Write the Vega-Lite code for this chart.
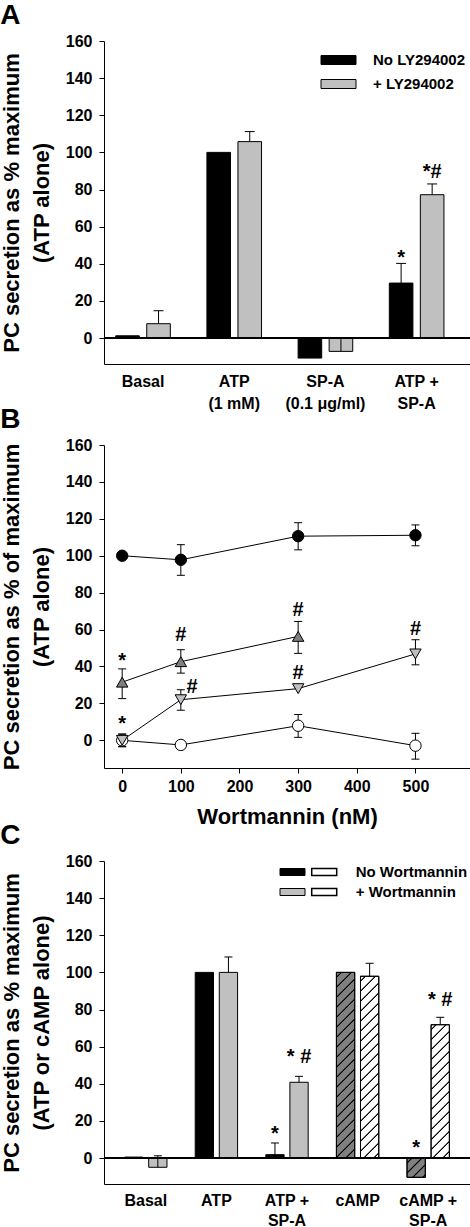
{
  "$schema": "https://vega.github.io/schema/vega-lite/v6.json",
  "background": "white",
  "padding": {"left": 0, "top": 2, "right": 0, "bottom": 0},
  "spacing": -5,
  "resolve": {"scale": {"fill": "independent", "shape": "independent", "stroke": "independent", "xOffset": "independent"}, "legend": {"fill": "independent", "shape": "independent", "stroke": "independent"}},
  "config": {
    "font": "Liberation Sans",
    "view": {"stroke": null},
    "axis": {"labelFont": "Liberation Sans", "labelFontWeight": "bold", "labelFontSize": 16, "labelColor": "black", "titleFont": "Liberation Sans", "titleFontWeight": "bold", "titleFontSize": 22, "titleColor": "black", "domainColor": "black", "tickColor": "black", "grid": false, "tickSize": 5},
    "legend": {"labelFont": "Liberation Sans", "labelFontWeight": "bold", "labelFontSize": 15, "labelColor": "black", "labelLimit": 300, "padding": 0},
    "title": {"font": "Liberation Sans", "fontWeight": "bold", "fontSize": 28, "color": "black", "anchor": "start", "frame": "bounds"}
  },
  "params": [
    {"name": "legendDark", "value": {"gradient": "linear", "x1": 0, "y1": 0, "x2": 1.187, "y2": 0.3323, "stops": [
      {"offset": 0.174, "color": "#808080"}, {"offset": 0.199, "color": "black"}, {"offset": 0.239, "color": "black"}, {"offset": 0.264, "color": "#808080"},
      {"offset": 0.424, "color": "#808080"}, {"offset": 0.449, "color": "black"}, {"offset": 0.489, "color": "black"}, {"offset": 0.514, "color": "#808080"},
      {"offset": 0.674, "color": "#808080"}, {"offset": 0.699, "color": "black"}, {"offset": 0.739, "color": "black"}, {"offset": 0.764, "color": "#808080"}]}},
    {"name": "legendWhite", "value": {"gradient": "linear", "x1": 0, "y1": 0, "x2": 1.187, "y2": 0.3323, "stops": [
      {"offset": 0.174, "color": "white"}, {"offset": 0.199, "color": "black"}, {"offset": 0.239, "color": "black"}, {"offset": 0.264, "color": "white"},
      {"offset": 0.424, "color": "white"}, {"offset": 0.449, "color": "black"}, {"offset": 0.489, "color": "black"}, {"offset": 0.514, "color": "white"},
      {"offset": 0.674, "color": "white"}, {"offset": 0.699, "color": "black"}, {"offset": 0.739, "color": "black"}, {"offset": 0.764, "color": "white"}]}},
    {"name": "hatch", "value": [
      {"offset": 0.0178, "color": "rgba(0,0,0,0)"}, {"offset": 0.0218, "color": "black"}, {"offset": 0.0258, "color": "black"}, {"offset": 0.0298, "color": "rgba(0,0,0,0)"},
      {"offset": 0.0654, "color": "rgba(0,0,0,0)"}, {"offset": 0.0694, "color": "black"}, {"offset": 0.0734, "color": "black"}, {"offset": 0.0774, "color": "rgba(0,0,0,0)"},
      {"offset": 0.1131, "color": "rgba(0,0,0,0)"}, {"offset": 0.1171, "color": "black"}, {"offset": 0.1211, "color": "black"}, {"offset": 0.1251, "color": "rgba(0,0,0,0)"},
      {"offset": 0.1607, "color": "rgba(0,0,0,0)"}, {"offset": 0.1647, "color": "black"}, {"offset": 0.1687, "color": "black"}, {"offset": 0.1727, "color": "rgba(0,0,0,0)"},
      {"offset": 0.2083, "color": "rgba(0,0,0,0)"}, {"offset": 0.2123, "color": "black"}, {"offset": 0.2163, "color": "black"}, {"offset": 0.2203, "color": "rgba(0,0,0,0)"},
      {"offset": 0.2559, "color": "rgba(0,0,0,0)"}, {"offset": 0.2599, "color": "black"}, {"offset": 0.2639, "color": "black"}, {"offset": 0.2679, "color": "rgba(0,0,0,0)"},
      {"offset": 0.3035, "color": "rgba(0,0,0,0)"}, {"offset": 0.3075, "color": "black"}, {"offset": 0.3115, "color": "black"}, {"offset": 0.3155, "color": "rgba(0,0,0,0)"},
      {"offset": 0.3511, "color": "rgba(0,0,0,0)"}, {"offset": 0.3551, "color": "black"}, {"offset": 0.3591, "color": "black"}, {"offset": 0.3631, "color": "rgba(0,0,0,0)"},
      {"offset": 0.3988, "color": "rgba(0,0,0,0)"}, {"offset": 0.4028, "color": "black"}, {"offset": 0.4068, "color": "black"}, {"offset": 0.4108, "color": "rgba(0,0,0,0)"},
      {"offset": 0.4464, "color": "rgba(0,0,0,0)"}, {"offset": 0.4504, "color": "black"}, {"offset": 0.4544, "color": "black"}, {"offset": 0.4584, "color": "rgba(0,0,0,0)"},
      {"offset": 0.494, "color": "rgba(0,0,0,0)"}, {"offset": 0.498, "color": "black"}, {"offset": 0.502, "color": "black"}, {"offset": 0.506, "color": "rgba(0,0,0,0)"},
      {"offset": 0.5416, "color": "rgba(0,0,0,0)"}, {"offset": 0.5456, "color": "black"}, {"offset": 0.5496, "color": "black"}, {"offset": 0.5536, "color": "rgba(0,0,0,0)"},
      {"offset": 0.5892, "color": "rgba(0,0,0,0)"}, {"offset": 0.5932, "color": "black"}, {"offset": 0.5972, "color": "black"}, {"offset": 0.6012, "color": "rgba(0,0,0,0)"},
      {"offset": 0.6369, "color": "rgba(0,0,0,0)"}, {"offset": 0.6409, "color": "black"}, {"offset": 0.6449, "color": "black"}, {"offset": 0.6489, "color": "rgba(0,0,0,0)"},
      {"offset": 0.6845, "color": "rgba(0,0,0,0)"}, {"offset": 0.6885, "color": "black"}, {"offset": 0.6925, "color": "black"}, {"offset": 0.6965, "color": "rgba(0,0,0,0)"},
      {"offset": 0.7321, "color": "rgba(0,0,0,0)"}, {"offset": 0.7361, "color": "black"}, {"offset": 0.7401, "color": "black"}, {"offset": 0.7441, "color": "rgba(0,0,0,0)"},
      {"offset": 0.7797, "color": "rgba(0,0,0,0)"}, {"offset": 0.7837, "color": "black"}, {"offset": 0.7877, "color": "black"}, {"offset": 0.7917, "color": "rgba(0,0,0,0)"},
      {"offset": 0.8273, "color": "rgba(0,0,0,0)"}, {"offset": 0.8313, "color": "black"}, {"offset": 0.8353, "color": "black"}, {"offset": 0.8393, "color": "rgba(0,0,0,0)"},
      {"offset": 0.875, "color": "rgba(0,0,0,0)"}, {"offset": 0.879, "color": "black"}, {"offset": 0.883, "color": "black"}, {"offset": 0.887, "color": "rgba(0,0,0,0)"},
      {"offset": 0.9226, "color": "rgba(0,0,0,0)"}, {"offset": 0.9266, "color": "black"}, {"offset": 0.9306, "color": "black"}, {"offset": 0.9346, "color": "rgba(0,0,0,0)"},
      {"offset": 0.9702, "color": "rgba(0,0,0,0)"}, {"offset": 0.9742, "color": "black"}, {"offset": 0.9782, "color": "black"}, {"offset": 0.9822, "color": "rgba(0,0,0,0)"}
    ]}
  ],
  "datasets": {
    "a_bars": [
      {"treatment": "Basal", "ly": "No LY294002", "value": 1.2, "hi": null},
      {"treatment": "Basal", "ly": "+ LY294002", "value": 7.7, "hi": 14.7},
      {"treatment": "ATP (1 mM)", "ly": "No LY294002", "value": 100, "hi": null},
      {"treatment": "ATP (1 mM)", "ly": "+ LY294002", "value": 105.8, "hi": 111.2},
      {"treatment": "SP-A (0.1 μg/ml)", "ly": "No LY294002", "value": -10.8, "hi": null},
      {"treatment": "SP-A (0.1 μg/ml)", "ly": "+ LY294002", "value": -7.2, "hi": 0},
      {"treatment": "ATP + SP-A", "ly": "No LY294002", "value": 29.6, "hi": 40.2},
      {"treatment": "ATP + SP-A", "ly": "+ LY294002", "value": 77.2, "hi": 83}
    ],
    "a_notes": [
      {"treatment": "ATP + SP-A", "ly": "No LY294002", "y": 43, "text": "*"},
      {"treatment": "ATP + SP-A", "ly": "+ LY294002", "y": 89.3, "text": "*#"}
    ],
    "b_points": [
      {"series": "Basal", "wort": 0, "value": 0, "lo": -3.5, "hi": 3.5},
      {"series": "Basal", "wort": 100, "value": -2.5, "lo": null, "hi": null},
      {"series": "Basal", "wort": 300, "value": 7.9, "lo": 1.6, "hi": 14},
      {"series": "Basal", "wort": 500, "value": -2.9, "lo": -10.2, "hi": 3.8},
      {"series": "ATP", "wort": 0, "value": 100, "lo": null, "hi": null},
      {"series": "ATP", "wort": 100, "value": 97.8, "lo": 89.4, "hi": 106},
      {"series": "ATP", "wort": 300, "value": 110.6, "lo": 103.2, "hi": 117.9},
      {"series": "ATP", "wort": 500, "value": 111.1, "lo": 105.4, "hi": 116.7},
      {"series": "ATP + SP-A, 0.1 μg/ml", "wort": 0, "value": 31.5, "lo": 22.6, "hi": 38.7},
      {"series": "ATP + SP-A, 0.1 μg/ml", "wort": 100, "value": 42.6, "lo": 36.4, "hi": 49.1},
      {"series": "ATP + SP-A, 0.1 μg/ml", "wort": 300, "value": 56.3, "lo": 47.1, "hi": 64.4},
      {"series": "ATP + SP-A, 0.2 μg/ml", "wort": 0, "value": 0, "lo": -3.4, "hi": 3},
      {"series": "ATP + SP-A, 0.2 μg/ml", "wort": 100, "value": 22, "lo": 16.3, "hi": 27.4},
      {"series": "ATP + SP-A, 0.2 μg/ml", "wort": 300, "value": 28, "lo": null, "hi": null},
      {"series": "ATP + SP-A, 0.2 μg/ml", "wort": 500, "value": 46.8, "lo": 40.9, "hi": 54.5}
    ],
    "b_notes": [
      {"wort": 0, "y": 42.8, "text": "*"},
      {"wort": 0, "y": 8.9, "text": "*"},
      {"wort": 100, "y": 57, "text": "#"},
      {"wort": 119, "y": 29, "text": "#"},
      {"wort": 300, "y": 70.5, "text": "#"},
      {"wort": 300, "y": 36.5, "text": "#"},
      {"wort": 500, "y": 60.3, "text": "#"}
    ],
    "c_bars": [
      {"treatment": "Basal", "wort": "No Wortmannin", "agonist": "none", "value": 0.5, "hi": null},
      {"treatment": "Basal", "wort": "+ Wortmannin", "agonist": "none", "value": -5, "hi": 1.2},
      {"treatment": "ATP", "wort": "No Wortmannin", "agonist": "ATP", "value": 100, "hi": null},
      {"treatment": "ATP", "wort": "+ Wortmannin", "agonist": "ATP", "value": 100, "hi": 108.3},
      {"treatment": "ATP + SP-A", "wort": "No Wortmannin", "agonist": "ATP", "value": 1.8, "hi": 8.1},
      {"treatment": "ATP + SP-A", "wort": "+ Wortmannin", "agonist": "ATP", "value": 40.8, "hi": 44},
      {"treatment": "cAMP", "wort": "No Wortmannin", "agonist": "cAMP", "value": 100, "hi": null},
      {"treatment": "cAMP", "wort": "+ Wortmannin", "agonist": "cAMP", "value": 97.9, "hi": 104.9},
      {"treatment": "cAMP + SP-A", "wort": "No Wortmannin", "agonist": "cAMP", "value": -10.4, "hi": null},
      {"treatment": "cAMP + SP-A", "wort": "+ Wortmannin", "agonist": "cAMP", "value": 71.8, "hi": 75.8}
    ],
    "c_notes": [
      {"treatment": "ATP + SP-A", "wort": "No Wortmannin", "y": 12.7, "text": "*"},
      {"treatment": "ATP + SP-A", "wort": "+ Wortmannin", "y": 54.3, "text": "* #"},
      {"treatment": "cAMP + SP-A", "wort": "No Wortmannin", "y": 5.2, "text": "*"},
      {"treatment": "cAMP + SP-A", "wort": "+ Wortmannin", "y": 85.2, "text": "* #"}
    ]
  },
  "vconcat": [
    {
      "title": {"text": "A", "offset": 3},
      "width": 366,
      "height": 323,
      "data": {"name": "a_bars"},
      "layer": [
        {
          "mark": {"type": "bar", "stroke": "black", "strokeWidth": 1, "opacity": 1},
          "encoding": {
            "x": {"field": "treatment", "type": "nominal", "sort": null, "scale": {"domain": ["Basal", "ATP (1 mM)", "SP-A (0.1 μg/ml)", "ATP + SP-A"], "paddingInner": 0.401, "paddingOuter": 0.207, "align": 0.31}, "axis": {"title": null, "labelAngle": 0, "ticks": false, "labelPadding": 9, "labelBaseline": "top", "labelLineHeight": 22, "labelExpr": "split(replace(replace(datum.label, ' + ', ' +|'), ' (', '|('), '|')"}},
            "xOffset": {"field": "ly", "type": "nominal", "sort": null, "scale": {"domain": ["No LY294002", "+ LY294002"], "paddingInner": 0.24, "paddingOuter": 0}},
            "y": {"field": "value", "type": "quantitative", "scale": {"domain": [-14, 160], "nice": false, "zero": false}, "axis": {"title": ["PC secretion as % maximum", "(ATP alone)"], "values": [0, 20, 40, 60, 80, 100, 120, 140, 160], "labelPadding": 7, "titlePadding": 12, "titleLineHeight": 30}},
            "fill": {"field": "ly", "type": "nominal", "scale": {"domain": ["No LY294002", "+ LY294002"], "range": ["black", "#c0c0c0"]}, "legend": {"orient": "none", "legendX": 217, "legendY": 11.5, "title": null, "symbolType": "M-4.375,-1.125H4.375V1.125H-4.375Z", "symbolSize": 64, "symbolStrokeColor": "black", "symbolStrokeWidth": 1, "symbolOffset": 10, "labelOffset": 27, "rowPadding": 8}}
          }
        },
        {
          "mark": {"type": "rule", "color": "black", "strokeWidth": 1},
          "encoding": {"y": {"datum": 0, "type": "quantitative"}}
        },
        {
          "transform": [{"filter": "datum.hi != null"}],
          "mark": {"type": "rule", "color": "black", "strokeWidth": 1},
          "encoding": {
            "x": {"field": "treatment", "type": "nominal", "sort": null, "scale": {"domain": ["Basal", "ATP (1 mM)", "SP-A (0.1 μg/ml)", "ATP + SP-A"]}},
            "xOffset": {"field": "ly", "type": "nominal", "sort": null, "scale": {"domain": ["No LY294002", "+ LY294002"]}},
            "y": {"field": "value", "type": "quantitative"},
            "y2": {"field": "hi"}
          }
        },
        {
          "transform": [{"filter": "datum.hi != null"}],
          "mark": {"type": "tick", "color": "black", "thickness": 1, "size": 10, "orient": "horizontal", "opacity": 1},
          "encoding": {
            "x": {"field": "treatment", "type": "nominal", "sort": null, "scale": {"domain": ["Basal", "ATP (1 mM)", "SP-A (0.1 μg/ml)", "ATP + SP-A"]}},
            "xOffset": {"field": "ly", "type": "nominal", "sort": null, "scale": {"domain": ["No LY294002", "+ LY294002"]}},
            "y": {"field": "hi", "type": "quantitative"}
          }
        },
        {
          "data": {"name": "a_notes"},
          "mark": {"type": "text", "fontSize": 20, "fontWeight": "bold", "baseline": "middle", "align": "center", "color": "black"},
          "encoding": {
            "x": {"field": "treatment", "type": "nominal", "sort": null, "scale": {"domain": ["Basal", "ATP (1 mM)", "SP-A (0.1 μg/ml)", "ATP + SP-A"]}},
            "xOffset": {"field": "ly", "type": "nominal", "sort": null, "scale": {"domain": ["No LY294002", "+ LY294002"]}},
            "y": {"field": "y", "type": "quantitative"},
            "text": {"field": "text"}
          }
        }
      ]
    },
    {
      "title": {"text": "B", "offset": 3},
      "width": 366,
      "height": 323,
      "data": {"name": "b_points"},
      "layer": [
        {
          "mark": {"type": "line", "color": "black", "strokeWidth": 1},
          "encoding": {
            "x": {"field": "wort", "type": "quantitative", "scale": {"domain": [-31, 593], "nice": false, "zero": false}, "axis": {"title": "Wortmannin (nM)", "titleFontSize": 22, "values": [0, 100, 200, 300, 400, 500], "labelPadding": 5, "titlePadding": 12}},
            "y": {"field": "value", "type": "quantitative", "scale": {"domain": [-15, 160], "nice": false, "zero": false}, "axis": {"title": ["PC secretion as % of maximum", "(ATP alone)"], "values": [0, 20, 40, 60, 80, 100, 120, 140, 160], "labelPadding": 7, "titlePadding": 12, "titleLineHeight": 30}},
            "detail": {"field": "series"}
          }
        },
        {
          "transform": [{"filter": "datum.hi != null"}],
          "mark": {"type": "rule", "color": "black", "strokeWidth": 1},
          "encoding": {
            "x": {"field": "wort", "type": "quantitative"},
            "y": {"field": "lo", "type": "quantitative"},
            "y2": {"field": "hi"}
          }
        },
        {
          "transform": [{"filter": "datum.hi != null"}],
          "mark": {"type": "tick", "color": "black", "thickness": 1, "size": 8, "orient": "horizontal", "opacity": 1},
          "encoding": {
            "x": {"field": "wort", "type": "quantitative"},
            "y": {"field": "hi", "type": "quantitative"}
          }
        },
        {
          "transform": [{"filter": "datum.lo != null"}],
          "mark": {"type": "tick", "color": "black", "thickness": 1, "size": 8, "orient": "horizontal", "opacity": 1},
          "encoding": {
            "x": {"field": "wort", "type": "quantitative"},
            "y": {"field": "lo", "type": "quantitative"}
          }
        },
        {
          "mark": {"type": "point", "filled": true, "opacity": 1, "stroke": "black", "strokeWidth": 1, "size": 130},
          "encoding": {
            "x": {"field": "wort", "type": "quantitative"},
            "y": {"field": "value", "type": "quantitative"},
            "fill": {"field": "series", "type": "nominal", "scale": {"domain": ["Basal", "ATP", "ATP + SP-A, 0.1 μg/ml", "ATP + SP-A, 0.2 μg/ml"], "range": ["white", "black", "#7f7f7f", "#bfbfbf"]}, "legend": {"orient": "none", "legendX": 31, "legendY": 9.5, "title": null, "columns": 2, "columnPadding": 7, "rowPadding": 2, "symbolSize": 64, "symbolOffset": 6.5, "labelOffset": 21, "values": ["Basal", "ATP + SP-A, 0.1 μg/ml", "ATP", "ATP + SP-A, 0.2 μg/ml"], "encode": {"symbols": {"update": {"shape": {"condition": [{"test": "datum.value === 'ATP + SP-A, 0.1 μg/ml'", "value": "M-3.5,0H-0.76M0.76,0H3.5M0,-1.3L1.35,1L-1.35,1Z"}, {"test": "datum.value === 'ATP + SP-A, 0.2 μg/ml'", "value": "M-3.5,0H-0.76M0.76,0H3.5M0,1.3L1.35,-1L-1.35,-1Z"}], "value": "M-3.5,0H-1.2M1.2,0H3.5M1.2,0A1.2,1.2,0,1,1,-1.2,0A1.2,1.2,0,1,1,1.2,0Z"}, "stroke": {"value": "black"}, "strokeWidth": {"value": 1}, "opacity": {"value": 1}}}}}},
            "shape": {"field": "series", "type": "nominal", "scale": {"domain": ["Basal", "ATP", "ATP + SP-A, 0.1 μg/ml", "ATP + SP-A, 0.2 μg/ml"], "range": ["circle", "circle", "triangle-up", "triangle-down"]}, "legend": null}
          }
        },
        {
          "data": {"name": "b_notes"},
          "mark": {"type": "text", "fontSize": 20, "fontWeight": "bold", "baseline": "middle", "align": "center", "color": "black"},
          "encoding": {
            "x": {"field": "wort", "type": "quantitative"},
            "y": {"field": "y", "type": "quantitative"},
            "text": {"field": "text"}
          }
        }
      ]
    },
    {
      "title": {"text": "C", "offset": 3},
      "width": 366,
      "height": 323,
      "data": {"name": "c_bars"},
      "layer": [
        {
          "mark": {"type": "bar", "stroke": "black", "strokeWidth": 1, "opacity": 1},
          "encoding": {
            "x": {"field": "treatment", "type": "nominal", "sort": null, "scale": {"domain": ["Basal", "ATP", "ATP + SP-A", "cAMP", "cAMP + SP-A"], "paddingInner": 0.4, "paddingOuter": 0.292}, "axis": {"title": null, "labelAngle": 0, "ticks": false, "labelPadding": 8, "labelBaseline": "top", "labelLineHeight": 20, "labelExpr": "split(replace(datum.label, ' + ', ' +|'), '|')"}},
            "xOffset": {"field": "wort", "type": "nominal", "sort": null, "scale": {"domain": ["No Wortmannin", "+ Wortmannin"], "paddingInner": 0.24, "paddingOuter": 0}},
            "y": {"field": "value", "type": "quantitative", "scale": {"domain": [-14, 160], "nice": false, "zero": false}, "axis": {"title": ["PC secretion as % maximum", "(ATP or cAMP alone)"], "values": [0, 20, 40, 60, 80, 100, 120, 140, 160], "labelPadding": 7, "titlePadding": 12, "titleLineHeight": 30}},
            "fill": {"field": "wort", "type": "nominal", "scale": {"domain": ["No Wortmannin", "+ Wortmannin"], "range": ["black", "#c0c0c0"]},
              "condition": [
                {"test": "datum.agonist === 'cAMP' && datum.wort === 'No Wortmannin'", "value": "#808080"},
                {"test": "datum.agonist === 'cAMP' && datum.wort === '+ Wortmannin'", "value": "white"}
              ],
              "legend": {"orient": "none", "legendX": 176, "legendY": 3.5, "title": null, "symbolType": "M-3.125,-0.875H3.125V0.875H-3.125Z", "symbolSize": 64, "symbolStrokeColor": "black", "symbolStrokeWidth": 1, "symbolOffset": 5, "labelOffset": 24, "rowPadding": 4, "labelExpr": "''"}}
          }
        },
        {
          "transform": [{"filter": "datum.agonist === 'cAMP'"}],
          "mark": {"type": "bar", "strokeWidth": 1, "opacity": 1},
          "encoding": {
            "x": {"field": "treatment", "type": "nominal", "sort": null, "scale": {"domain": ["Basal", "ATP", "ATP + SP-A", "cAMP", "cAMP + SP-A"]}},
            "xOffset": {"field": "wort", "type": "nominal", "sort": null, "scale": {"domain": ["No Wortmannin", "+ Wortmannin"]}},
            "y": {"field": "value", "type": "quantitative"},
            "fill": {
              "condition": [
                {"test": "datum.treatment === 'cAMP' && datum.wort === 'No Wortmannin'", "value": {"expr": "{gradient: 'linear', x1: 0, y1: 0, x2: 0.1105, y2: 1.1206, stops: hatch}"}},
                {"test": "datum.treatment === 'cAMP' && datum.wort === '+ Wortmannin'", "value": {"expr": "{gradient: 'linear', x1: 0, y1: 0, x2: 0.1152, y2: 1.1441, stops: hatch}"}},
                {"test": "datum.treatment === 'cAMP + SP-A' && datum.wort === 'No Wortmannin'", "value": {"expr": "{gradient: 'linear', x1: 0, y1: 0, x2: 5.433, y2: 5.729, stops: hatch}"}},
                {"test": "datum.treatment === 'cAMP + SP-A' && datum.wort === '+ Wortmannin'", "value": {"expr": "{gradient: 'linear', x1: 0, y1: 0, x2: 0.2123, y2: 1.5462, stops: hatch}"}}
              ],
              "value": "transparent"
            },
            "stroke": {"field": "wort", "type": "nominal", "scale": {"domain": ["+ Wortmannin", "No Wortmannin"], "range": ["black", "black"]},
              "legend": {"orient": "none", "legendX": 207.7, "legendY": 3.5, "title": null, "values": ["No Wortmannin", "+ Wortmannin"], "symbolType": "M-3.125,-0.875H3.125V0.875H-3.125Z", "symbolSize": 64, "symbolOffset": 5, "labelOffset": 24, "rowPadding": 4,
                "encode": {"symbols": {"update": {
                  "fill": {"value": {"expr": "(datum.index === 0 || datum.label === 'No Wortmannin' || datum.value === 'No Wortmannin') ? legendDark : legendWhite"}},
                  "stroke": {"value": "black"}, "strokeWidth": {"value": 1}, "opacity": {"value": 1}}}}}}
          }
        },
        {
          "mark": {"type": "rule", "color": "black", "strokeWidth": 1},
          "encoding": {"y": {"datum": 0, "type": "quantitative"}}
        },
        {
          "transform": [{"filter": "datum.hi != null"}],
          "mark": {"type": "rule", "color": "black", "strokeWidth": 1},
          "encoding": {
            "x": {"field": "treatment", "type": "nominal", "sort": null, "scale": {"domain": ["Basal", "ATP", "ATP + SP-A", "cAMP", "cAMP + SP-A"]}},
            "xOffset": {"field": "wort", "type": "nominal", "sort": null, "scale": {"domain": ["No Wortmannin", "+ Wortmannin"]}},
            "y": {"field": "value", "type": "quantitative"},
            "y2": {"field": "hi"}
          }
        },
        {
          "transform": [{"filter": "datum.hi != null"}],
          "mark": {"type": "tick", "color": "black", "thickness": 1, "size": 8, "orient": "horizontal", "opacity": 1},
          "encoding": {
            "x": {"field": "treatment", "type": "nominal", "sort": null, "scale": {"domain": ["Basal", "ATP", "ATP + SP-A", "cAMP", "cAMP + SP-A"]}},
            "xOffset": {"field": "wort", "type": "nominal", "sort": null, "scale": {"domain": ["No Wortmannin", "+ Wortmannin"]}},
            "y": {"field": "hi", "type": "quantitative"}
          }
        },
        {
          "data": {"name": "c_notes"},
          "mark": {"type": "text", "fontSize": 20, "fontWeight": "bold", "baseline": "middle", "align": "center", "color": "black"},
          "encoding": {
            "x": {"field": "treatment", "type": "nominal", "sort": null, "scale": {"domain": ["Basal", "ATP", "ATP + SP-A", "cAMP", "cAMP + SP-A"]}},
            "xOffset": {"field": "wort", "type": "nominal", "sort": null, "scale": {"domain": ["No Wortmannin", "+ Wortmannin"]}},
            "y": {"field": "y", "type": "quantitative"},
            "text": {"field": "text"}
          }
        }
      ]
    }
  ]
}
